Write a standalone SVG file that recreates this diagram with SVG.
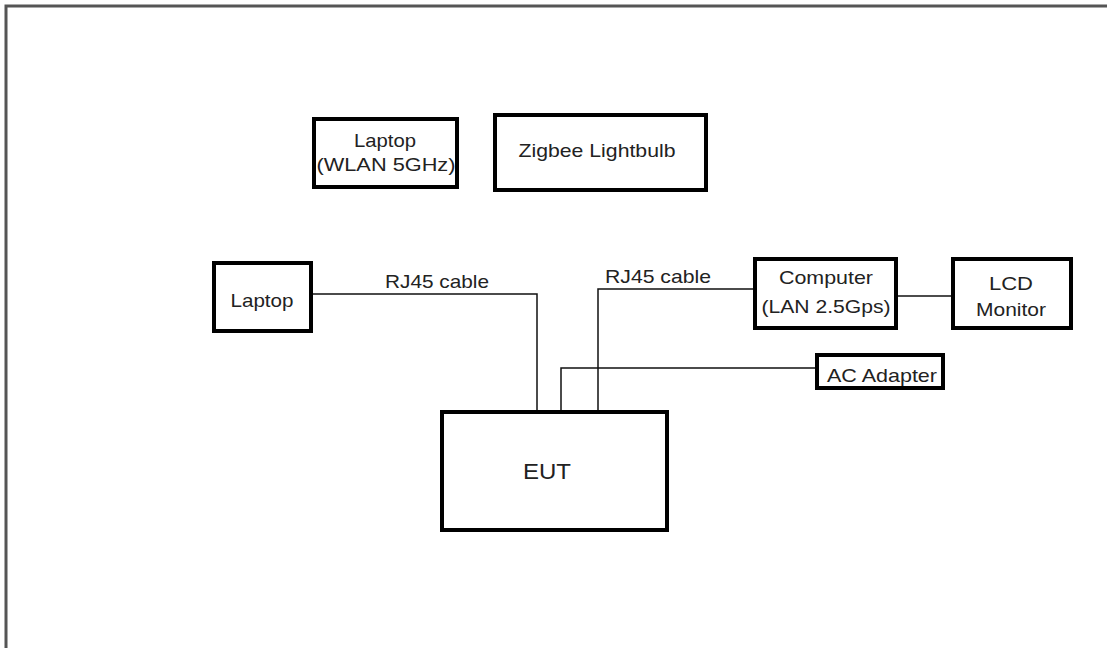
<svg xmlns="http://www.w3.org/2000/svg" width="1107" height="648" viewBox="0 0 1107 648">
<style>
.box{fill:#fff;stroke:#000;stroke-width:4}
.ln{fill:none;stroke:#111;stroke-width:1.5}
text{font-family:"Liberation Sans",Arial,sans-serif;font-size:19px;fill:#222;text-anchor:middle}
</style>
<rect width="1107" height="648" fill="#fff"/>
<path d="M6,648 V6 H1107" fill="none" stroke="#555" stroke-width="3"/>
<g id="connectors">
<path class="ln" d="M312,294 H537 V410"/>
<path class="ln" d="M753,289 H598 V410"/>
<path class="ln" d="M815,368 H561 V410"/>
<path class="ln" d="M898,296 H951"/>
<text x="437" y="288" textLength="104" lengthAdjust="spacingAndGlyphs">RJ45 cable</text>
<text x="658" y="283" textLength="106" lengthAdjust="spacingAndGlyphs">RJ45 cable</text>
</g>
<g id="laptop-wlan">
<rect class="box" x="314" y="119" width="143" height="68"/>
<text x="385" y="147" textLength="62" lengthAdjust="spacingAndGlyphs">Laptop</text>
<text x="386" y="171" textLength="139" lengthAdjust="spacingAndGlyphs">(WLAN 5GHz)</text>
</g>
<g id="zigbee">
<rect class="box" x="495" y="115" width="211" height="75"/>
<text x="597" y="157" textLength="157" lengthAdjust="spacingAndGlyphs">Zigbee  Lightbulb</text>
</g>
<g id="laptop">
<rect class="box" x="214" y="263" width="97" height="68"/>
<text x="262" y="307" textLength="63" lengthAdjust="spacingAndGlyphs">Laptop</text>
</g>
<g id="computer">
<rect class="box" x="755" y="259" width="141" height="69"/>
<text x="826" y="284" textLength="94" lengthAdjust="spacingAndGlyphs">Computer</text>
<text x="826" y="313" textLength="129" lengthAdjust="spacingAndGlyphs">(LAN 2.5Gps)</text>
</g>
<g id="lcd">
<rect class="box" x="953" y="259" width="118" height="69"/>
<text x="1011" y="290" textLength="44" lengthAdjust="spacingAndGlyphs">LCD</text>
<text x="1011" y="316" textLength="70" lengthAdjust="spacingAndGlyphs">Monitor</text>
</g>
<g id="ac-adapter">
<rect class="box" x="817" y="355" width="126" height="33"/>
<text x="882" y="382" textLength="110" lengthAdjust="spacingAndGlyphs">AC Adapter</text>
</g>
<g id="eut">
<rect class="box" x="442" y="412" width="225" height="118"/>
<text x="547" y="479" textLength="48" lengthAdjust="spacingAndGlyphs" style="font-size:22px">EUT</text>
</g>
</svg>
